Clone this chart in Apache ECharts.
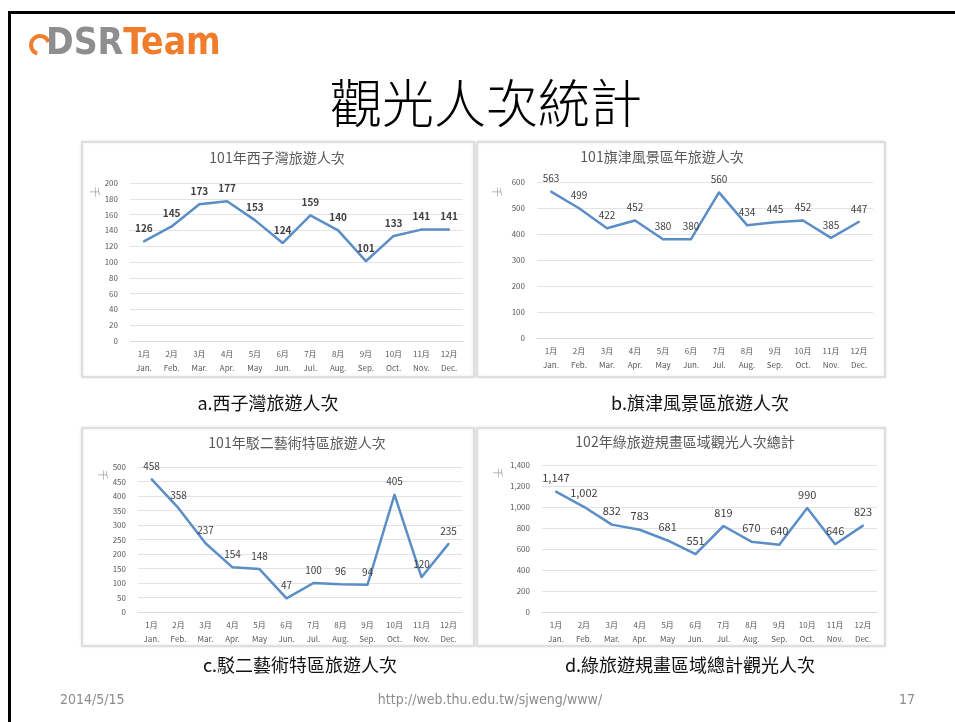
<!DOCTYPE html>
<html>
<head>
<meta charset="utf-8">
<script src="https://cdn.jsdelivr.net/npm/echarts/dist/echarts.min.js"></script>
<style>
html, body { margin: 0; padding: 0; background: #fff; }
#main { width: 955px; height: 722px; }
</style>
</head>
<body>
<div id="main"></div>
<script>
// 月份
var monthsZh = ['1月', '2月', '3月', '4月', '5月', '6月', '7月', '8月', '9月', '10月', '11月', '12月'];
var monthsEn = ['Jan.', 'Feb.', 'Mar.', 'Apr.', 'May', 'Jun.', 'Jul.', 'Aug.', 'Sep.', 'Oct.', 'Nov.', 'Dec.'];

// 各圖資料 (千人次)
var sizihwan = [126, 145, 173, 177, 153, 124, 159, 140, 101, 133, 141, 141];
var cijin = [563, 499, 422, 452, 380, 380, 560, 434, 445, 452, 385, 447];
var pier2 = [458, 358, 237, 154, 148, 47, 100, 96, 94, 405, 120, 235];
var greenTotal = [1147, 1002, 832, 783, 681, 551, 819, 670, 640, 990, 646, 823];

var chartTitles = ['101年西子灣旅遊人次', '101旗津風景區年旅遊人次', '101年駁二藝術特區旅遊人次', '102年綠旅遊規畫區域觀光人次總計'];
var captions = ['a.西子灣旅遊人次', 'b.旗津風景區旅遊人次', 'c.駁二藝術特區旅遊人次', 'd.綠旅遊規畫區域總計觀光人次'];
var yMax = [200, 600, 500, 1400];
var yStep = [20, 100, 50, 200];

var categories = monthsZh.map(function (m, i) { return m + '\n' + monthsEn[i]; });
var allData = [sizihwan, cijin, pier2, greenTotal];

var font = '"Noto Sans CJK TC", "Noto Sans", sans-serif';
var lineColor = '#5b8ec6';

// 版面
var grids = [
	{ left: 130, top: 183, width: 333, height: 158 },
	{ left: 537, top: 182, width: 336, height: 156 },
	{ left: 138, top: 467, width: 324, height: 145 },
	{ left: 542, top: 465, width: 335, height: 147 }
];
var panels = [
	{ x: 82, y: 142, w: 392, h: 235 },
	{ x: 477, y: 142, w: 408, h: 235 },
	{ x: 82, y: 428, w: 392, h: 218 },
	{ x: 477, y: 428, w: 408, h: 218 }
];
var titlePos = [[277, 151], [662, 150], [297, 436], [685, 435]];
var unitPos = [[95, 192], [497, 192], [103, 475], [498, 473]];
var captionPos = [[268, 403], [700, 403], [300, 665], [690, 665]];
var labelSize = [10, 10, 10, 11];

function comma(v) {
	return String(v).replace(/\B(?=(\d{3})+(?!\d))/g, ',');
}

var chart = echarts.init(document.getElementById('main'));

var footFont = '"Liberation Sans Narrow", "DejaVu Sans Condensed", sans-serif';
var logoFont = '"DejaVu Sans Condensed", "DejaVu Sans", sans-serif';
var graphics = [
	// 投影片外框
	{ type: 'line', shape: { x1: 10, y1: 12.5, x2: 955, y2: 12.5 }, style: { stroke: '#000', lineWidth: 3 } },
	{ type: 'line', shape: { x1: 9.5, y1: 11, x2: 9.5, y2: 722 }, style: { stroke: '#000', lineWidth: 3 } },
	// logo
	{ type: 'arc', shape: { cx: 40, cy: 45, r: 9, startAngle: Math.PI * 0.6, endAngle: Math.PI * 1.9 }, style: { stroke: '#f07d2c', lineWidth: 4, fill: null } },
	{
		type: 'text', left: 46, top: 26,
		style: {
			text: '{g|DSR}{o|Team}',
			rich: {
				g: { fontSize: 37, fontWeight: 'bold', fill: '#8e8e8e', fontFamily: logoFont },
				o: { fontSize: 37, fontWeight: 'bold', fill: '#f07d2c', fontFamily: logoFont }
			}
		}
	},
	// 大標題
	{ type: 'text', x: 486, y: 103, style: { text: '觀光人次統計', fontSize: 52, fontFamily: font, fontWeight: 300, fill: '#000', align: 'center', verticalAlign: 'middle' } },
	// 頁尾
	{ type: 'text', x: 60, y: 700, style: { text: '2014/5/15', fontSize: 14, fontFamily: footFont, fill: '#8c8c8c', verticalAlign: 'middle' } },
	{ type: 'text', x: 490, y: 700, style: { text: 'http://web.thu.edu.tw/sjweng/www/', fontSize: 14, fontFamily: footFont, fill: '#8c8c8c', align: 'center', verticalAlign: 'middle' } },
	{ type: 'text', x: 907, y: 700, style: { text: '17', fontSize: 14, fontFamily: footFont, fill: '#8c8c8c', align: 'center', verticalAlign: 'middle' } }
];

panels.forEach(function (p, i) {
	graphics.push({ type: 'rect', z: -1, shape: { x: p.x, y: p.y, width: p.w, height: p.h }, style: { fill: '#fff', stroke: '#d9d9d9', lineWidth: 1.5, shadowBlur: 3, shadowColor: 'rgba(0,0,0,0.12)' } });
	graphics.push({ type: 'text', x: titlePos[i][0], y: titlePos[i][1], style: { text: chartTitles[i], fontSize: 14, fontFamily: font, fill: '#595959', align: 'center', verticalAlign: 'top' } });
	graphics.push({ type: 'text', x: unitPos[i][0], y: unitPos[i][1], rotation: -Math.PI / 2, style: { text: '千', fontSize: 10, fontFamily: font, fill: '#a6a6a6', align: 'center', verticalAlign: 'middle' } });
	graphics.push({ type: 'text', x: captionPos[i][0], y: captionPos[i][1], style: { text: captions[i], fontSize: 18, fontFamily: font, fill: '#111', align: 'center', verticalAlign: 'middle' } });
});

var option = {
	animation: false,
	grid: grids.map(function (g) { return Object.assign({ containLabel: false }, g); }),
	xAxis: grids.map(function (g, i) {
		return {
			type: 'category',
			gridIndex: i,
			data: categories,
			boundaryGap: true,
			axisLine: { lineStyle: { color: '#d9d9d9' } },
			axisTick: { show: false },
			axisLabel: { color: '#595959', fontSize: 8, fontFamily: font, lineHeight: 14, margin: 6, interval: 0 }
		};
	}),
	yAxis: grids.map(function (g, i) {
		return {
			type: 'value',
			gridIndex: i,
			min: 0,
			max: yMax[i],
			interval: yStep[i],
			axisLine: { show: false },
			axisTick: { show: false },
			splitLine: { lineStyle: { color: '#e3e3e3' } },
			axisLabel: {
				color: '#595959', fontSize: 8, fontFamily: font, margin: 12,
				formatter: function (v) { return comma(v); }
			}
		};
	}),
	series: allData.map(function (d, i) {
		return {
			type: 'line',
			xAxisIndex: i,
			yAxisIndex: i,
			data: d,
			symbol: 'circle',
			symbolSize: 2,
			showSymbol: true,
			showAllSymbol: true,
			itemStyle: { color: lineColor },
			lineStyle: { color: lineColor, width: 2.5 },
			label: {
				show: true,
				position: 'top',
				distance: 7,
				color: '#404040',
				fontSize: labelSize[i],
				fontWeight: i === 0 ? 'bold' : 'normal',
				fontFamily: font,
				formatter: function (p) { return comma(p.value); }
			}
		};
	}),
	graphic: graphics
};

chart.setOption(option);
</script>
</body>
</html>
